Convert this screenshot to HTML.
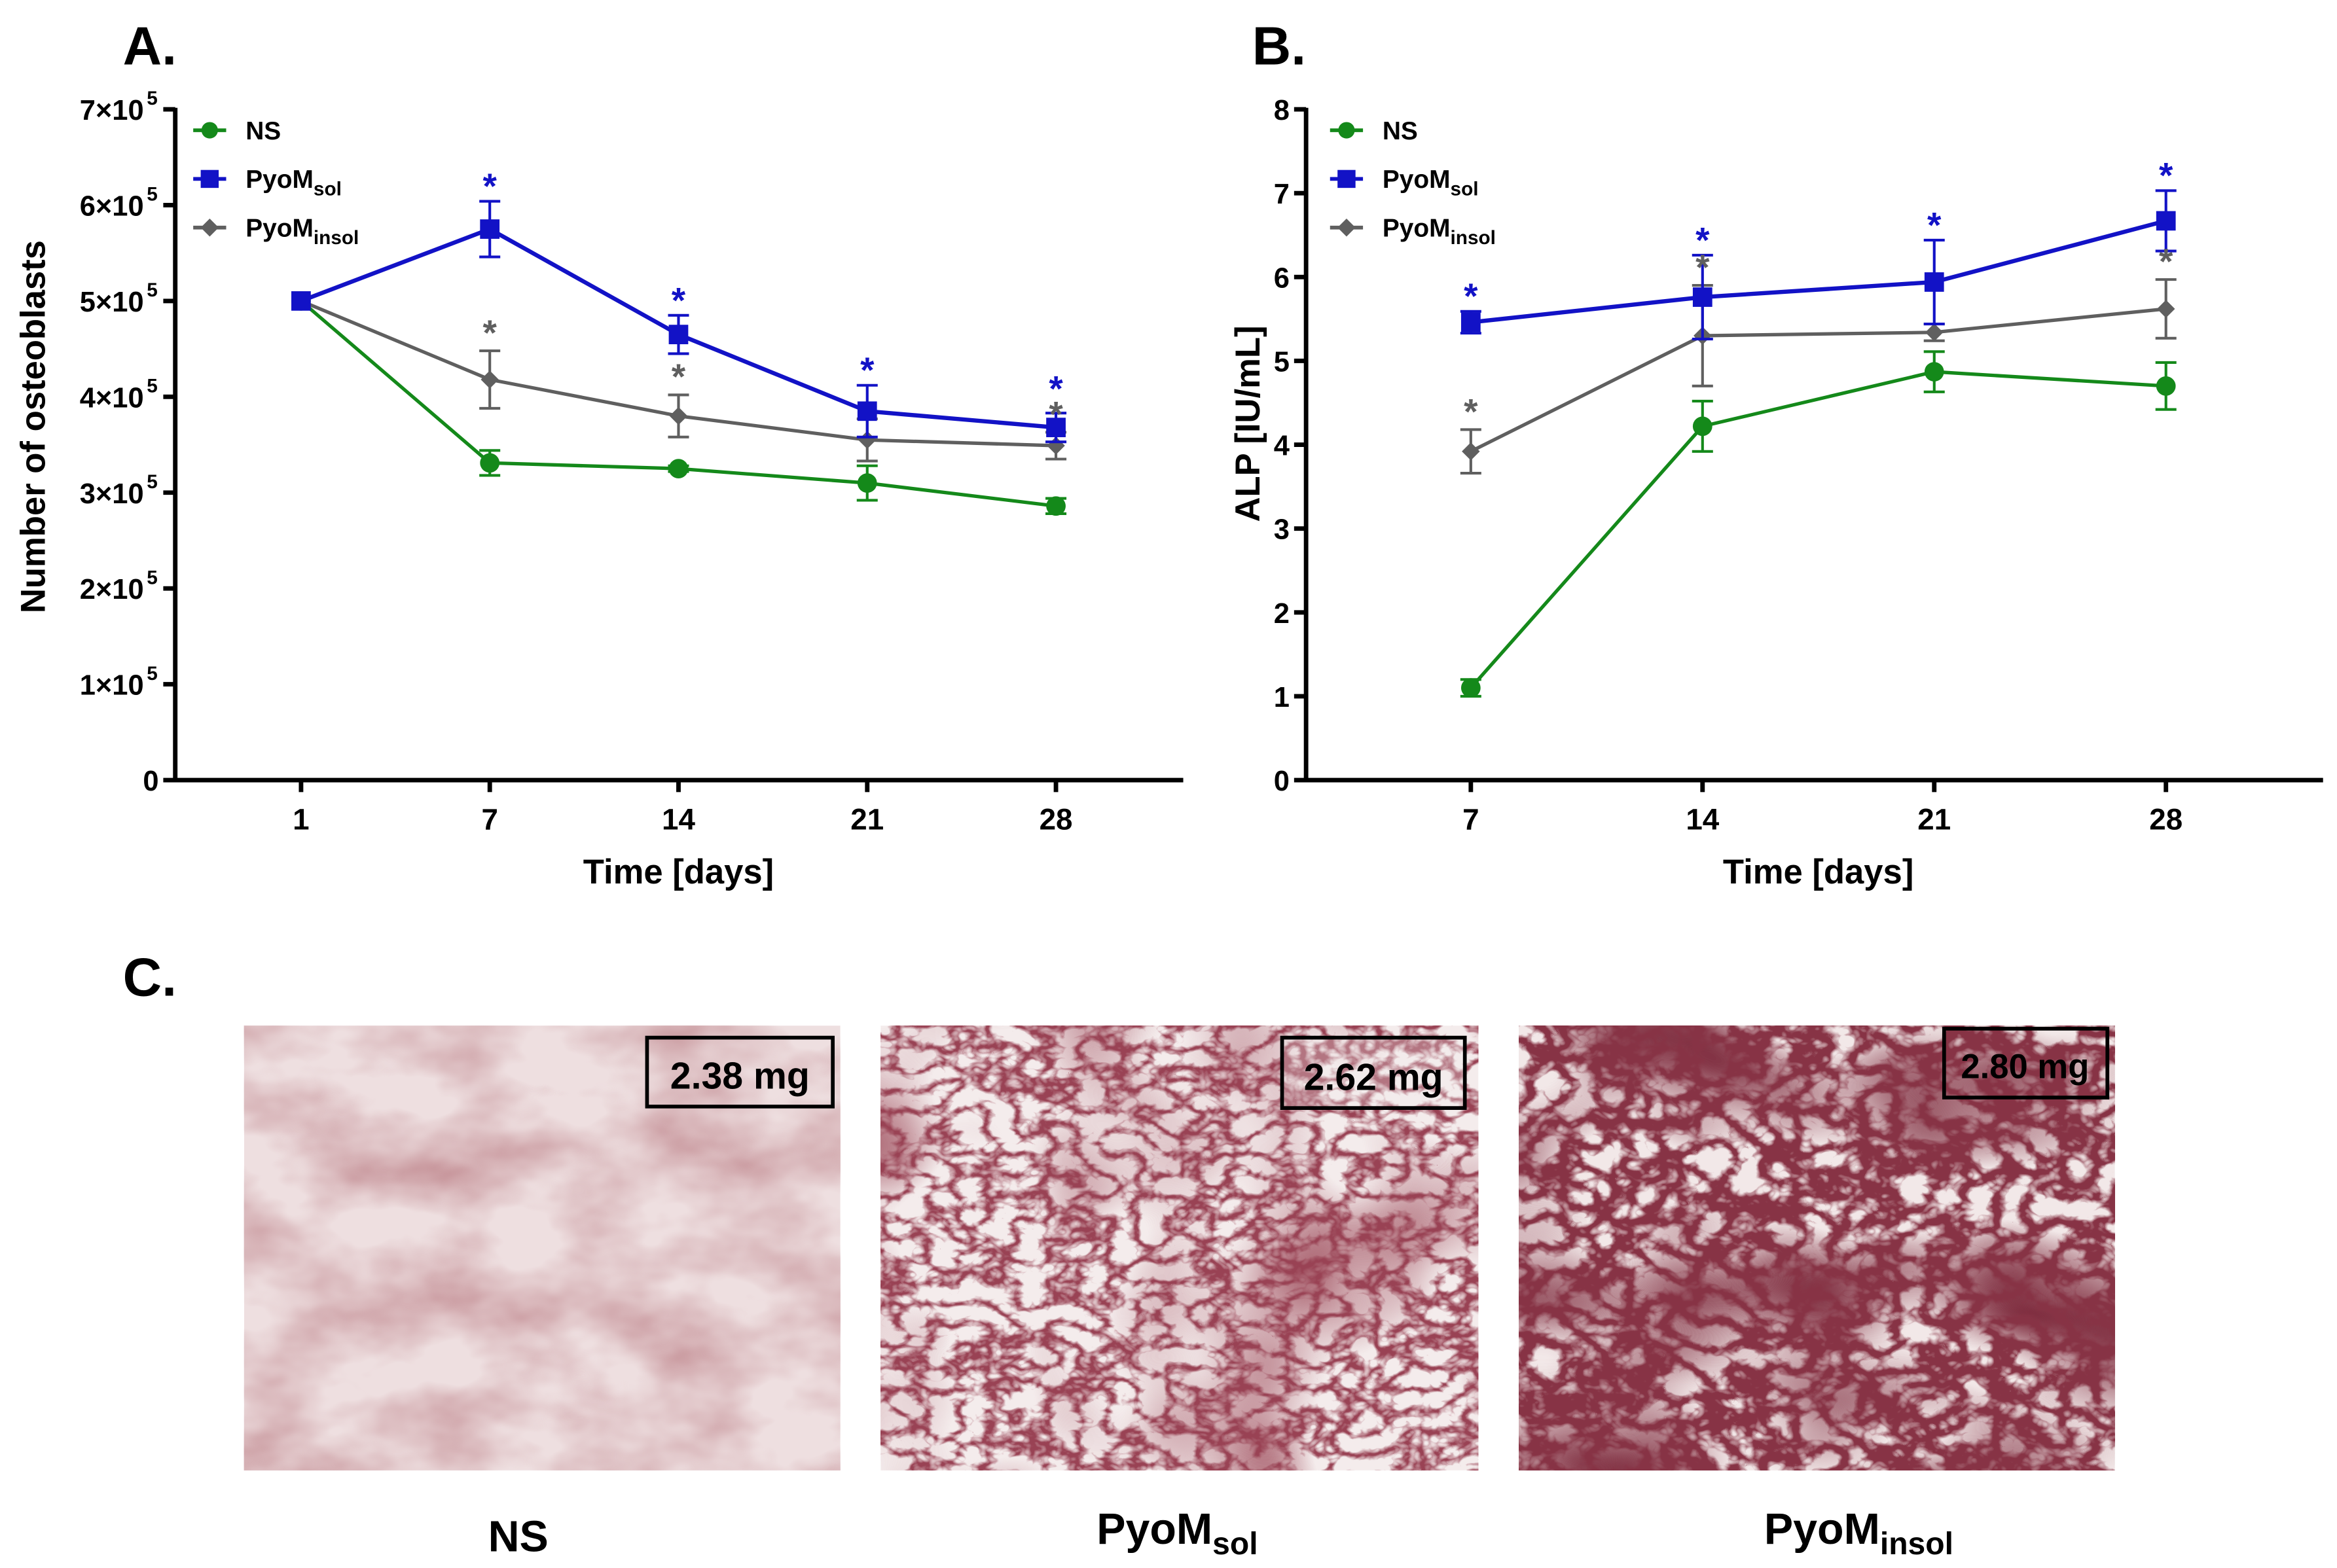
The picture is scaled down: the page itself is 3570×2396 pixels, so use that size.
<!DOCTYPE html>
<html><head><meta charset="utf-8">
<style>
html,body{margin:0;padding:0;background:#fff;}
svg{display:block;}
text{font-family:"Liberation Sans",Arial,sans-serif;font-weight:bold;}
</style></head>
<body>
<svg id="fig" width="3570" height="2396" viewBox="0 0 1560.3 1047.2" xmlns="http://www.w3.org/2000/svg">
<defs>
<filter id="fNS" x="0" y="0" width="1" height="1" color-interpolation-filters="sRGB">
 <feTurbulence type="fractalNoise" baseFrequency="0.012 0.02" numOctaves="4" seed="5"/>
 <feColorMatrix values="0 0 0 0 0.72  0 0 0 0 0.47  0 0 0 0 0.5  1.3 0 0 0 -0.45"/>
</filter>
<filter id="fSol" x="0" y="0" width="1" height="1" color-interpolation-filters="sRGB">
 <feTurbulence type="turbulence" baseFrequency="0.05 0.07" numOctaves="3" seed="11"/>
 <feColorMatrix values="0 0 0 0 0.6  0 0 0 0 0.26  0 0 0 0 0.33  -3.6 0 0 0 1.4"/>
</filter>
<filter id="fSol2" x="0" y="0" width="1" height="1" color-interpolation-filters="sRGB">
 <feTurbulence type="fractalNoise" baseFrequency="0.01" numOctaves="2" seed="3"/>
 <feColorMatrix values="0 0 0 0 0.62  0 0 0 0 0.3  0 0 0 0 0.36  2 0 0 0 -0.9"/>
</filter>
<filter id="fIns" x="0" y="0" width="1" height="1" color-interpolation-filters="sRGB">
 <feTurbulence type="turbulence" baseFrequency="0.045 0.06" numOctaves="3" seed="21"/>
 <feColorMatrix values="0 0 0 0 0.53  0 0 0 0 0.2  0 0 0 0 0.27  -4 0 0 0 1.8"/>
</filter>
<filter id="fIns2" x="0" y="0" width="1" height="1" color-interpolation-filters="sRGB">
 <feTurbulence type="fractalNoise" baseFrequency="0.008 0.012" numOctaves="2" seed="8"/>
 <feColorMatrix values="0 0 0 0 0.5  0 0 0 0 0.18  0 0 0 0 0.25  2.6 0 0 0 -1.0"/>
</filter>
</defs>

<text x="82" y="43" font-size="36">A.</text>
<text x="836" y="43" font-size="36">B.</text>
<text x="82" y="665" font-size="36">C.</text>

<g id="chartA"></g>
<g id="chartB"></g>

<g>
 <rect x="163" y="685" width="398" height="297" fill="#eedfe0"/>
 <rect x="163" y="685" width="398" height="297" filter="url(#fNS)"/>
 <rect x="432" y="693" width="124" height="46" fill="none" stroke="#000" stroke-width="2.5"/>
 <text x="494" y="727" font-size="25" text-anchor="middle">2.38 mg</text>
</g>
<g>
 <rect x="588" y="685" width="399" height="297" fill="#f4ecec"/>
 <rect x="588" y="685" width="399" height="297" filter="url(#fSol2)"/>
 <rect x="588" y="685" width="399" height="297" filter="url(#fSol)"/>
 <rect x="856" y="693" width="122" height="47" fill="#f3eaea" fill-opacity="0.3" stroke="#000" stroke-width="2.5"/>
 <text x="917" y="728" font-size="25" text-anchor="middle">2.62 mg</text>
</g>
<g>
 <rect x="1014" y="685" width="398" height="297" fill="#f2e8e8"/>
 <rect x="1014" y="685" width="398" height="297" filter="url(#fIns2)"/>
 <rect x="1014" y="685" width="398" height="297" filter="url(#fIns)"/>
 <rect x="1298" y="687" width="109" height="46" fill="none" stroke="#000" stroke-width="2.5"/>
 <text x="1352" y="720" font-size="23" text-anchor="middle">2.80 mg</text>
</g>
<text x="346" y="1036" font-size="29" text-anchor="middle">NS</text>
<text x="786" y="1031" font-size="29" text-anchor="middle">PyoM<tspan font-size="21" dy="7">sol</tspan></text>
<text x="1241" y="1031" font-size="29" text-anchor="middle">PyoM<tspan font-size="21" dy="7">insol</tspan></text>
</svg>

<script>
// ---- Panel A data (units of 1e5 cells) ----
var catsA = ["1","7","14","21","28"];
var nsA = [5.0, 3.31, 3.25, 3.1, 2.86];
var nsAerr = [0, 0.13, 0.03, 0.18, 0.08];
var solA = [5.0, 5.75, 4.65, 3.85, 3.68];
var solAerr = [0, 0.29, 0.2, 0.27, 0.15];
var insA = [5.0, 4.18, 3.8, 3.55, 3.49];
var insAerr = [0, 0.3, 0.22, 0.22, 0.14];
var solAstar = [0,1,1,1,1];
var insAstar = [0,1,1,0,1];
var ticksA = [0,1,2,3,4,5,6,7];

// ---- Panel B data (IU/mL) ----
var catsB = ["7","14","21","28"];
var nsB = [1.1, 4.22, 4.87, 4.7];
var nsBerr = [0.1, 0.3, 0.24, 0.28];
var solB = [5.46, 5.76, 5.94, 6.67];
var solBerr = [0.13, 0.5, 0.5, 0.36];
var insB = [3.92, 5.3, 5.34, 5.62];
var insBerr = [0.26, 0.6, 0.1, 0.35];
var solBstar = [1,1,1,1];
var insBstar = [1,1,0,1];
var ticksB = [0,1,2,3,4,5,6,7,8];

var NS="http://www.w3.org/2000/svg";
var GREEN="#14891a", BLUE="#1212c6", GRAY="#5f5f5f";
function mk(parent, tag, attrs){
  var e=document.createElementNS(NS,tag);
  for(var k in attrs) e.setAttribute(k, attrs[k]);
  parent.appendChild(e); return e;
}

function drawChart(gid, cfg){
  var g=document.getElementById(gid);
  var y=function(v){return cfg.y0 - (v-cfg.ymin)/(cfg.ymax-cfg.ymin)*(cfg.y0-cfg.y1);};
  var x=function(i){return cfg.xs + i*cfg.dx;};
  var ax=mk(g,'path',{d:'M'+cfg.ax+' '+(cfg.y1-1)+' V'+cfg.y0+' H'+cfg.axEnd,fill:'none',stroke:'#000','stroke-width':3});
  
  
  cfg.ticks.forEach(function(t){
    var tk=mk(g,'line',{x1:cfg.ax-8,x2:cfg.ax,y1:y(t),y2:y(t),stroke:'#000','stroke-width':3});
    
    
    var lb=mk(g,'text',{x:cfg.ax-11,y:y(t)+7,'font-size':19,'text-anchor':'end'});
    
    
    if(cfg.sci && t>0){
      lb.setAttribute('x',cfg.ax-21);
      lb.textContent=t+'\u00d710';
      var sp=mk(g,'text',{x:cfg.ax-19,y:y(t)-3,'font-size':13});
      sp.textContent='5';
      
      
    } else lb.textContent=t;
  });
  cfg.cats.forEach(function(c,i){
    var tk=mk(g,'line',{x1:x(i),x2:x(i),y1:cfg.y0,y2:cfg.y0+8,stroke:'#000','stroke-width':3});
    
    
    var lb=mk(g,'text',{x:x(i),y:cfg.y0+33,'font-size':20,'text-anchor':'middle'});
    lb.textContent=c;
    
    
  });
  var xt=mk(g,'text',{x:cfg.xtx,y:590,'font-size':23,'text-anchor':'middle'});
  xt.textContent='Time [days]';
  
  
  var yt=mk(g,'text',{x:0,y:0,'font-size':23,'text-anchor':'middle',transform:'translate('+cfg.ytx+','+cfg.yty+') rotate(-90)'});
  yt.textContent=cfg.ytitle;
  
  

  var series=[
    {name:'ns',vals:cfg.ns,err:cfg.nsErr,col:GREEN,m:'circle'},
    {name:'insol',vals:cfg.ins,err:cfg.insErr,col:GRAY,m:'diamond'},
    {name:'sol',vals:cfg.sol,err:cfg.solErr,col:BLUE,m:'square'}
  ];
  series.forEach(function(s){
    var sg=mk(g,'g',{});
    
    
    s.vals.forEach(function(v,i){
      if(s.err[i]>0){
        var eb=mk(sg,'path',{d:'M'+x(i)+' '+y(v+s.err[i])+' V'+y(v-s.err[i])+' M'+(x(i)-7)+' '+y(v+s.err[i])+' h14 M'+(x(i)-7)+' '+y(v-s.err[i])+' h14',stroke:s.col,'stroke-width':1.8,fill:'none'});
        
        
      }
    });
    var d=s.vals.map(function(v,i){return (i?'L':'M')+x(i)+' '+y(v);}).join(' ');
    var ln=mk(sg,'path',{d:d,stroke:s.col,'stroke-width':s.name=='sol'?2.8:2.3,fill:'none'});
    
    
    s.vals.forEach(function(v,i){
      var px=x(i),py=y(v),p;
      if(s.m=='circle') p=mk(sg,'circle',{cx:px,cy:py,r:6.5,fill:s.col});
      else if(s.m=='square') p=mk(sg,'rect',{x:px-6.5,y:py-6.5,width:13,height:13,fill:s.col});
      else p=mk(sg,'path',{d:'M'+px+' '+(py-6)+' L'+(px+6)+' '+py+' L'+px+' '+(py+6)+' L'+(px-6)+' '+py+'Z',fill:s.col});
      
      
    });
  });
  var lg=[['NS',GREEN,'circle',''],['PyoM',BLUE,'square','sol'],['PyoM',GRAY,'diamond','insol']];
  lg.forEach(function(L,k){
    var ly=87+k*32.5, lx=cfg.legX;
    var eg=mk(g,'g',{});
    
    
    mk(eg,'line',{x1:lx,x2:lx+22,y1:ly,y2:ly,stroke:L[1],'stroke-width':2.5});
    if(L[2]=='circle') mk(eg,'circle',{cx:lx+11,cy:ly,r:5.5,fill:L[1]});
    else if(L[2]=='square') mk(eg,'rect',{x:lx+5,y:ly-6,width:12,height:12,fill:L[1]});
    else mk(eg,'path',{d:'M'+(lx+11)+' '+(ly-6)+' l6 6 l-6 6 l-6 -6z',fill:L[1]});
    var t=mk(eg,'text',{x:lx+35,y:ly+6,'font-size':17});
    t.textContent=L[0];
    if(L[3]){var s=mk(t,'tspan',{'font-size':13,dy:5});s.textContent=L[3];}
  });
  cfg.cats.forEach(function(c,i){
    var insTop=y(cfg.ins[i]+cfg.insErr[i]), solTop=y(cfg.sol[i]+cfg.solErr[i]);
    var gy=null;
    if(cfg.insStar[i]){
      gy=insTop-14;
      var st=mk(g,'text',{x:x(i),y:gy+10,'font-size':24,'text-anchor':'middle',fill:GRAY,'font-weight':'normal'});
      st.textContent='*';
      
      
    }
    if(cfg.solStar[i]){
      var sy=solTop-12;
      if(gy!==null && sy>gy-17) sy=gy-17;
      var st2=mk(g,'text',{x:x(i),y:sy+10,'font-size':24,'text-anchor':'middle',fill:BLUE});
      st2.textContent='*';
      
      
    }
  });
}

drawChart('chartA',{cats:catsA,ns:nsA,nsErr:nsAerr,sol:solA,solErr:solAerr,ins:insA,insErr:insAerr,
  solStar:solAstar,insStar:insAstar,ticks:ticksA,ymin:0,ymax:7,y0:521,y1:73,ax:117,axEnd:790,
  xs:201,dx:126,sci:true,xtx:453,ytx:30,yty:285,ytitle:'Number of osteoblasts',legX:129});
drawChart('chartB',{cats:catsB,ns:nsB,nsErr:nsBerr,sol:solB,solErr:solBerr,ins:insB,insErr:insBerr,
  solStar:solBstar,insStar:insBstar,ticks:ticksB,ymin:0,ymax:8,y0:521,y1:73,ax:872,axEnd:1551,
  xs:982,dx:154.7,sci:false,xtx:1214,ytx:841,yty:283,ytitle:'ALP [IU/mL]',legX:888});
</script>
</body></html>
